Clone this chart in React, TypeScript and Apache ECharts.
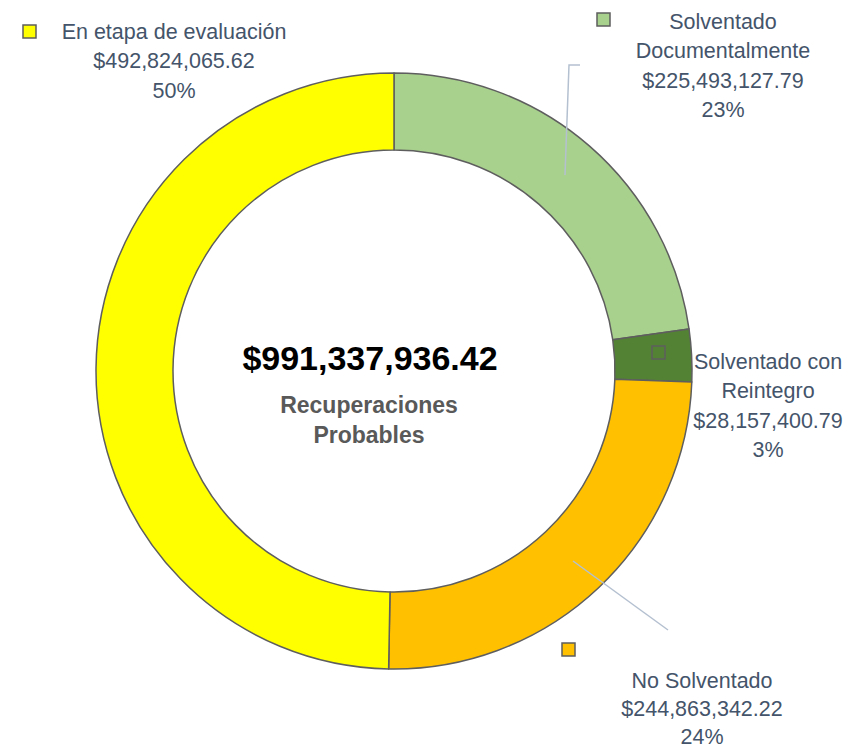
import React, { useEffect, useRef } from "react";
import * as echarts from "echarts";

// ---- Data ----
const categories = [
  "Solventado Documentalmente",
  "Solventado con Reintegro",
  "No Solventado",
  "En etapa de evaluación",
];
const labelNames = [
  "Solventado\nDocumentalmente",
  "Solventado con\nReintegro",
  "No Solventado",
  "En etapa de evaluación",
];
const amounts = [225493127.79, 28157400.79, 244863342.22, 492824065.62];
const percents = [23, 3, 24, 50];
const centerTitle = "Recuperaciones\nProbables";

// ---- Styles / layout ----
const colors = ["#A9D18E", "#548235", "#FFC000", "#FFFF00"];
const labelPos = [
  { x: 723, y: 7, lh: 29.5 },
  { x: 768, y: 347, lh: 29.5 },
  { x: 702, y: 667, lh: 28 },
  { x: 174, y: 17, lh: 29.5 },
];
const keyPos = [
  { x: 597, y: 13 },
  { x: 652, y: 346 },
  { x: 562, y: 643 },
  { x: 23, y: 25 },
];
const FONT = "'Liberation Sans', Arial, sans-serif";

const fmtMoney = (v: number) =>
  "$" +
  v.toLocaleString("en-US", { minimumFractionDigits: 2, maximumFractionDigits: 2 });

export default function App() {
  const ref = useRef<HTMLDivElement>(null);
  useEffect(() => {
    document.body.style.margin = "0";
    const chart = echarts.init(ref.current!, null, { renderer: "svg" });
    const total = amounts.reduce((a, b) => a + b, 0);
    const leaderColor = "#B4C0D0";
    chart.setOption({
      animation: false,
      backgroundColor: "#FFFFFF",
      series: [
        {
          type: "pie",
          center: [394, 371],
          radius: [221, 298],
          startAngle: 90,
          clockwise: true,
          avoidLabelOverlap: false,
          silent: true,
          itemStyle: { borderColor: "#5E5E5E", borderWidth: 1.5 },
          label: {
            show: true,
            position: "outside",
            color: "#44546A",
            fontSize: 21.5,
            lineHeight: 29.5,
            fontFamily: FONT,
            align: "center",
            formatter: (p: any) =>
              `${labelNames[p.dataIndex]}\n${fmtMoney(p.value)}\n${percents[p.dataIndex]}%`,
          },
          labelLine: { show: false },
          labelLayout: (params: any) => {
            const i = params.dataIndex;
            return {
              x: labelPos[i].x,
              y: labelPos[i].y,
              align: "center",
              verticalAlign: "top",
            };
          },
          data: categories.map((c, i) => ({
            name: c,
            value: amounts[i],
            itemStyle: { color: colors[i] },
            label: { lineHeight: labelPos[i].lh },
          })),
        },
      ],
      graphic: [
        ...keyPos.map((k, i) => ({
          type: "rect",
          z: 100,
          shape: { x: k.x, y: k.y, width: 13, height: 13 },
          style: { fill: colors[i], stroke: "#5E5E5E", lineWidth: 1.5 },
        })),
        {
          type: "polyline",
          z: 100,
          shape: { points: [[565, 175], [569, 65], [580, 65]] },
          style: { stroke: leaderColor, lineWidth: 1.5, fill: "none" },
        },
        {
          type: "polyline",
          z: 100,
          shape: { points: [[573, 561], [668, 630]] },
          style: { stroke: leaderColor, lineWidth: 1.5, fill: "none" },
        },
        {
          type: "text",
          z: 100,
          x: 370,
          y: 358,
          style: {
            text: fmtMoney(total),
            fill: "#000000",
            font: `bold 34px ${FONT}`,
            align: "center",
            verticalAlign: "middle",
          },
        },
        {
          type: "text",
          z: 100,
          x: 369,
          y: 420,
          style: {
            text: centerTitle,
            fill: "#595959",
            font: `bold 23px ${FONT}`,
            lineHeight: 30,
            align: "center",
            verticalAlign: "middle",
          },
        },
      ],
    });
    return () => chart.dispose();
  }, []);
  return <div ref={ref} style={{ width: 864, height: 750 }} />;
}
